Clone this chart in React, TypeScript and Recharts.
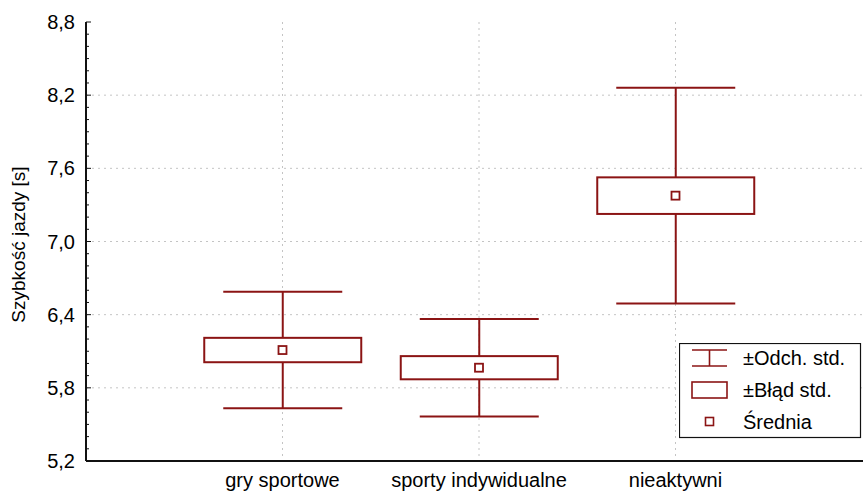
import React from 'react';
import { ComposedChart, Bar, Scatter, XAxis, YAxis, CartesianGrid, Legend, Label } from 'recharts';

// ---- data ----
const categories = ['gry sportowe', 'sporty indywidualne', 'nieaktywni'];
const positions = [1, 2, 3];
const means = [6.11, 5.965, 7.376];
const stdDevs = [0.477, 0.4, 0.885];
const stdErrs = [0.1, 0.095, 0.15];
const yTicks = [
  5.2, 5.3, 5.4, 5.5, 5.6, 5.7, 5.8, 5.9, 6.0, 6.1, 6.2, 6.3, 6.4, 6.5, 6.6, 6.7, 6.8, 6.9,
  7.0, 7.1, 7.2, 7.3, 7.4, 7.5, 7.6, 7.7, 7.8, 7.9, 8.0, 8.1, 8.2, 8.3, 8.4, 8.5, 8.6, 8.7, 8.8,
];
const yMajorTicks = [5.2, 5.8, 6.4, 7.0, 7.6, 8.2, 8.8];
const yGridValues = [5.8, 6.4, 7.0, 7.6, 8.2];
const yLabel = 'Szybkość jazdy [s]';
const legendLabels = ['±Odch. std.', '±Błąd std.', 'Średnia'];

const data = categories.map((name, i) => ({
  name,
  x: positions[i],
  mean: means[i],
  sdRange: [means[i] - stdDevs[i], means[i] + stdDevs[i]],
  seRange: [means[i] - stdErrs[i], means[i] + stdErrs[i]],
}));

// ---- styles ----
const RED = '#8b1414';
const AXIS = '#111';
const FONT = '"Liberation Sans", Arial, Helvetica, sans-serif';
const Y_TICK_MARGIN = 11;

const YTick = (props: any) => {
  const { x, y, payload } = props;
  const v = payload.value as number;
  const major = yMajorTicks.some((m) => Math.abs(m - v) < 1e-6);
  const ax = x + Y_TICK_MARGIN;
  return (
    <g>
      <line x1={ax} x2={ax + (major ? 5 : 3)} y1={y} y2={y} stroke={AXIS} strokeWidth={1} />
      {major && (
        <text
          x={x}
          y={y}
          textAnchor="end"
          dominantBaseline="central"
          fontSize={20}
          fontFamily={FONT}
          fill="#000"
        >
          {v.toFixed(1).replace('.', ',')}
        </text>
      )}
    </g>
  );
};

const Whisker = (props: any) => {
  const { x, y, width, height } = props;
  const top = Math.min(y, y + height);
  const bot = Math.max(y, y + height);
  const cx = x + width / 2;
  return (
    <g stroke={RED} strokeWidth={2}>
      <line x1={x} x2={x + width} y1={top} y2={top} />
      <line x1={x} x2={x + width} y1={bot} y2={bot} />
      <line x1={cx} x2={cx} y1={top} y2={bot} />
    </g>
  );
};

const Box = (props: any) => {
  const { x, y, width, height } = props;
  const top = Math.min(y, y + height);
  const h = Math.abs(height);
  return <rect x={x} y={top} width={width} height={h} fill="#fff" stroke={RED} strokeWidth={2} />;
};

const MeanMarker = (props: any) => {
  const { cx, cy } = props;
  return <rect x={cx - 4} y={cy - 4} width={8} height={8} fill="#fff" stroke={RED} strokeWidth={1.8} />;
};

const LegendBox = () => (
  <svg width={183} height={96} style={{ display: 'block' }}>
    <rect x={0.5} y={0.5} width={181} height={94} fill="#fff" stroke={AXIS} strokeWidth={1.2} />
    <g stroke={RED} strokeWidth={1.6}>
      <line x1={13} x2={48} y1={7} y2={7} />
      <line x1={13} x2={48} y1={23} y2={23} />
      <line x1={30.5} x2={30.5} y1={7} y2={23} />
      <rect x={13} y={39} width={35} height={16} fill="#fff" />
      <rect x={26.5} y={74.5} width={8} height={8} fill="#fff" />
    </g>
    {legendLabels.map((t, i) => (
      <text
        key={t}
        x={64}
        y={[15, 47, 78.5][i]}
        dominantBaseline="central"
        fontSize={20}
        fontFamily={FONT}
        fill="#000"
      >
        {t}
      </text>
    ))}
  </svg>
);

export default function App() {
  return (
    <div
      style={{
        position: 'fixed',
        left: 0,
        top: 0,
        width: 863,
        height: 492,
        overflow: 'hidden',
        background: '#fff',
      }}
    >
      <ComposedChart
        width={900}
        height={492}
        data={data}
        margin={{ top: 22, right: 28, bottom: 0, left: 0 }}
      >
        <CartesianGrid
          xAxisId="main"
          stroke="#c4c4c4"
          strokeDasharray="2 4"
          horizontalValues={yGridValues}
        />
        <XAxis
          xAxisId="main"
          dataKey="x"
          type="number"
          domain={[0, 4]}
          ticks={positions}
          interval={0}
          height={31}
          tickLine={false}
          tickSize={0}
          tickMargin={12}
          axisLine={{ stroke: AXIS, strokeWidth: 2 }}
          tick={{ fill: '#000', fontSize: 20, fontFamily: FONT }}
          tickFormatter={(v: number) => categories[positions.indexOf(v)] ?? ''}
        />
        <XAxis
          xAxisId="top"
          dataKey="x"
          type="number"
          orientation="top"
          domain={[0, 4]}
          ticks={positions}
          height={0}
          tick={false}
          tickLine={false}
          axisLine={{ stroke: AXIS, strokeWidth: 2 }}
        />
        <YAxis
          type="number"
          domain={[5.2, 8.8]}
          ticks={yTicks}
          interval={0}
          width={86}
          tickLine={false}
          tickSize={0}
          tickMargin={Y_TICK_MARGIN}
          axisLine={{ stroke: AXIS, strokeWidth: 2 }}
          tick={<YTick />}
        >
          <Label
            content={(p: any) => {
              const vb = p.viewBox ?? { x: 0, y: 22, width: 86, height: 439 };
              const cx = vb.x + 25;
              const cy = vb.y + vb.height / 2 + 3;
              return (
                <text
                  x={cx}
                  y={cy}
                  transform={`rotate(-90 ${cx} ${cy})`}
                  textAnchor="middle"
                  fontSize={19}
                  fontFamily={FONT}
                  fill="#000"
                >
                  {yLabel}
                </text>
              );
            }}
          />
        </YAxis>
        <Bar
          xAxisId="main"
          dataKey="sdRange"
          barSize={119}
          shape={<Whisker />}
          isAnimationActive={false}
        />
        <Bar
          xAxisId="top"
          dataKey="seRange"
          barSize={157}
          shape={<Box />}
          isAnimationActive={false}
        />
        <Scatter
          xAxisId="main"
          dataKey="mean"
          shape={<MeanMarker />}
          isAnimationActive={false}
        />
        <Legend
          layout="vertical"
          align="center"
          verticalAlign="middle"
          content={() => <LegendBox />}
          wrapperStyle={{ left: 679, top: 343, width: 183, height: 96 }}
        />
      </ComposedChart>
    </div>
  );
}
